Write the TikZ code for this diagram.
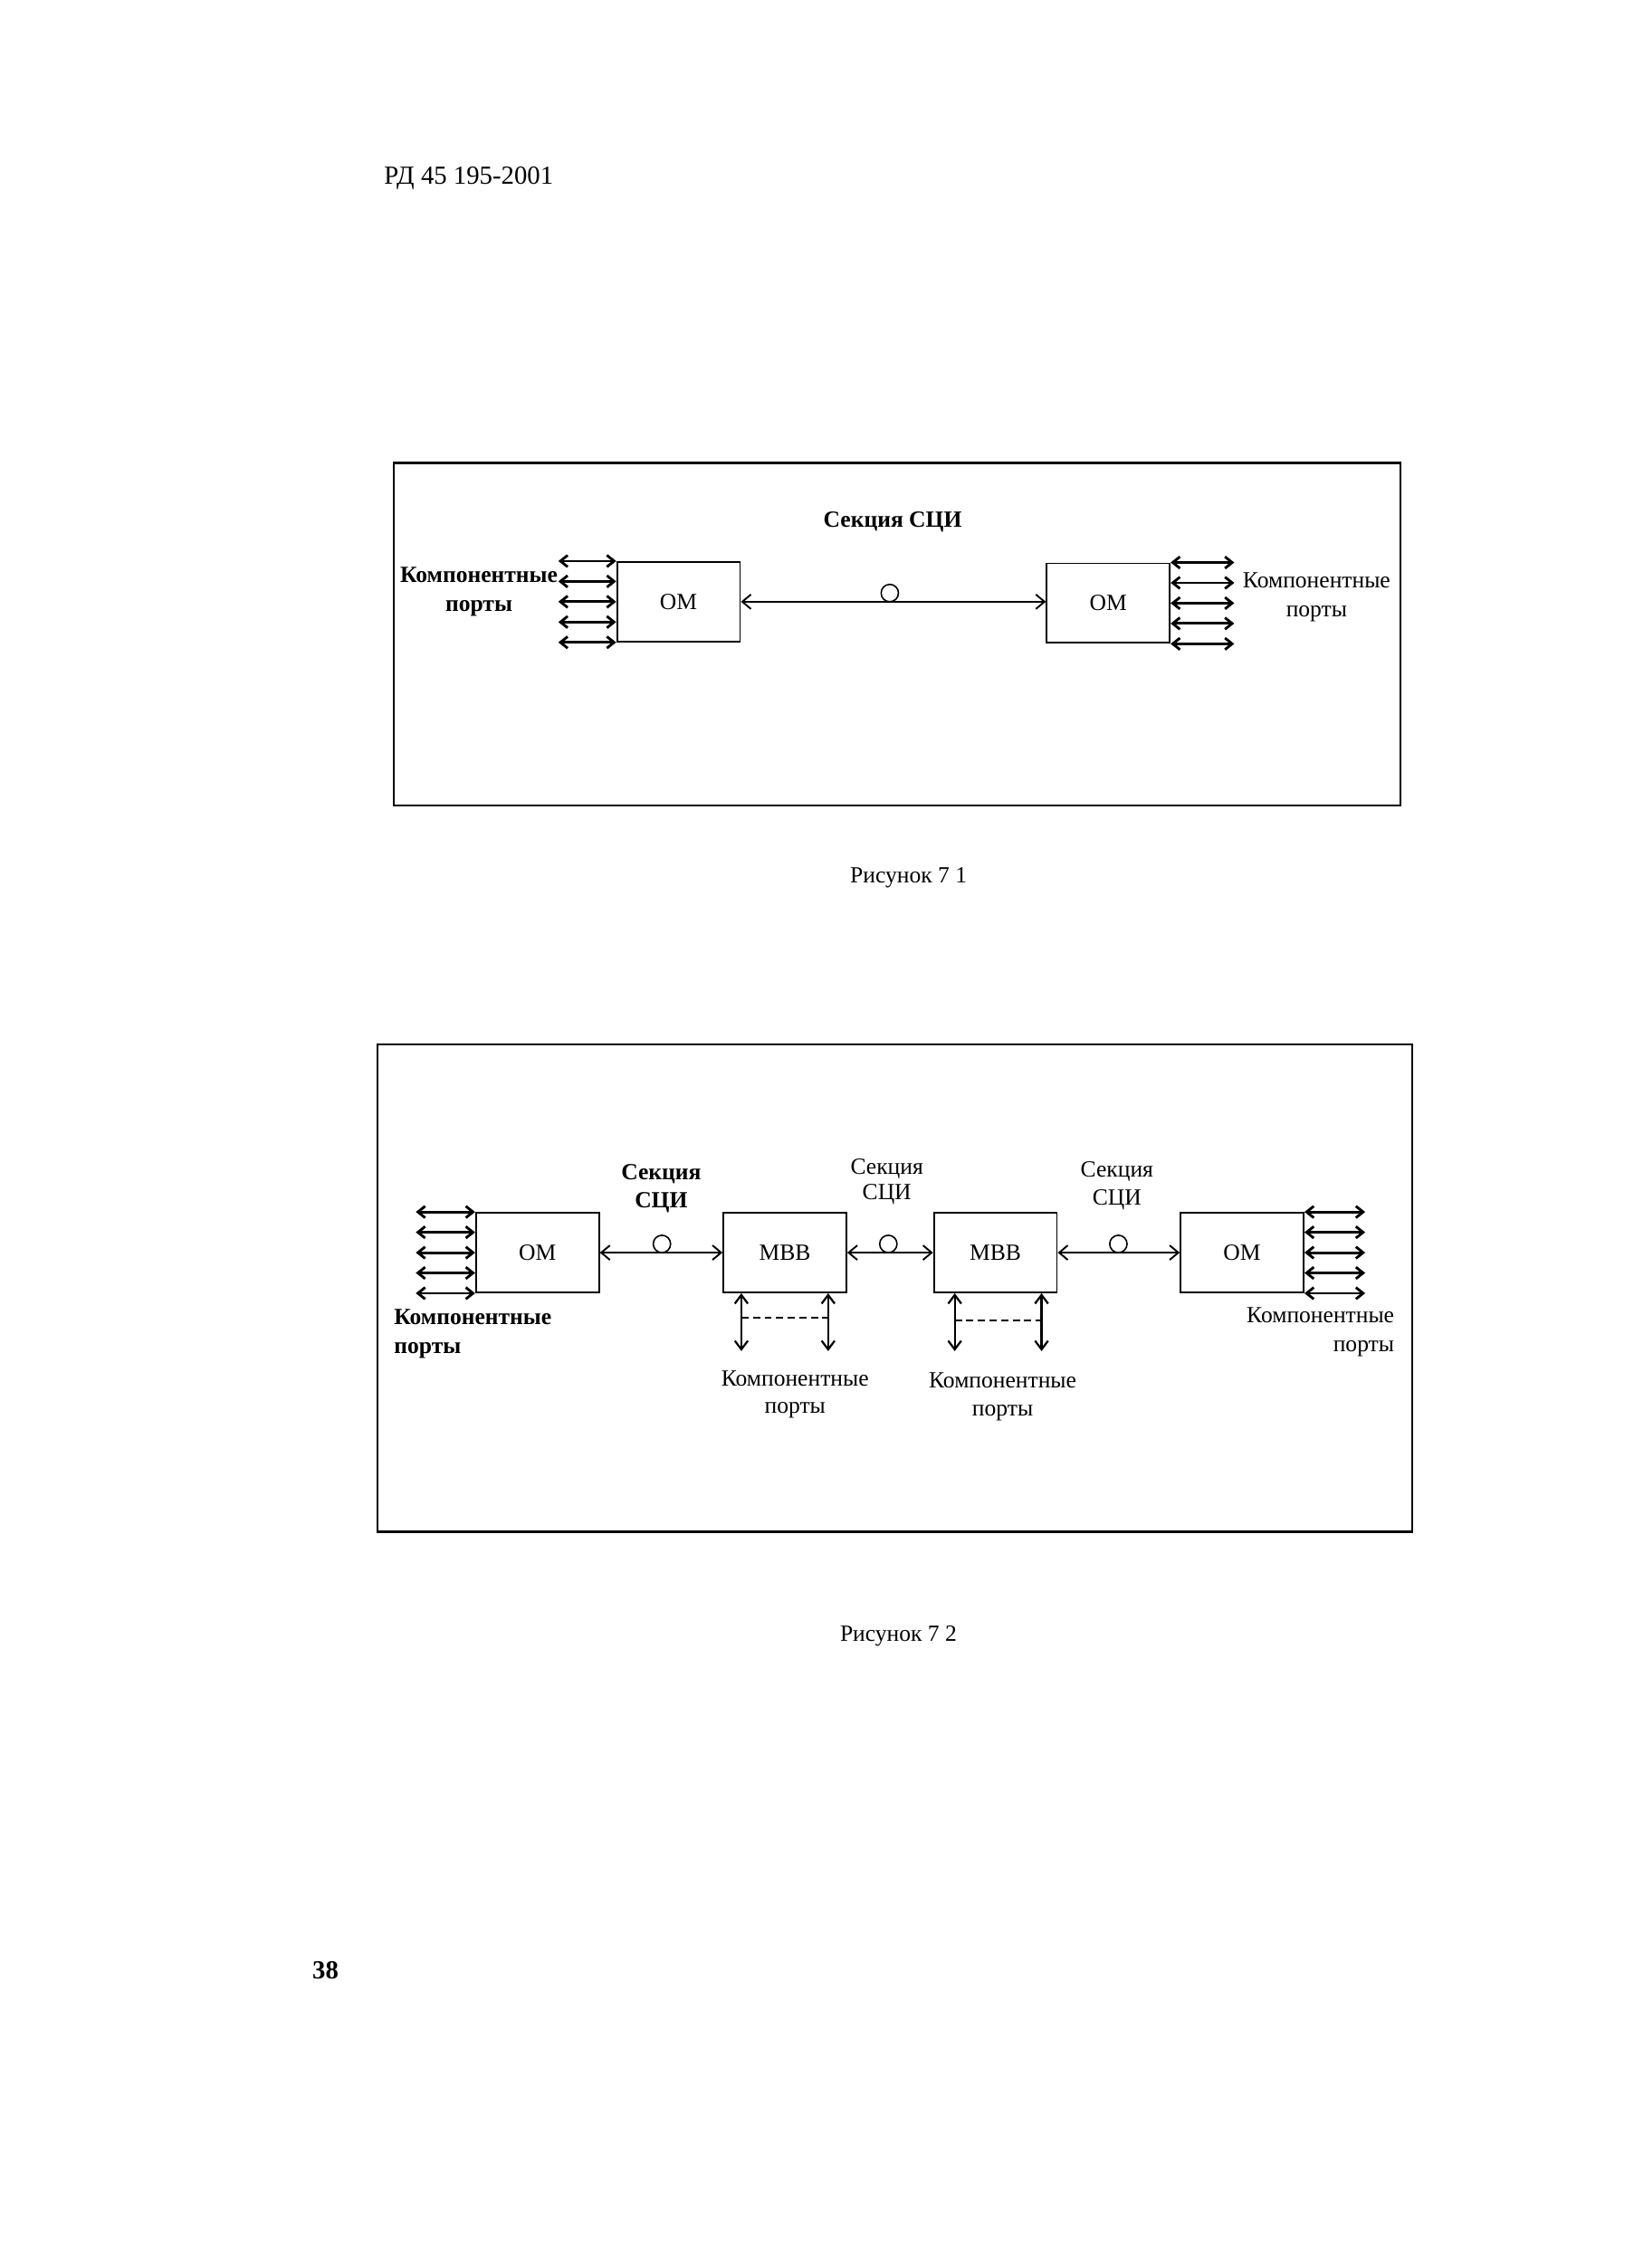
\documentclass[tikz,border=0pt]{standalone}
\usepackage{fontspec}
\setmainfont{Liberation Serif}
\usetikzlibrary{arrows.meta,positioning,calc}

\newcommand\figfont{\fontsize{8}{9.6}\selectfont}
\tikzset{
  frame/.style={line width=0.7pt},
  blk/.style={draw, line width=0.6pt, minimum width=42.5pt, minimum height=27.5pt,
    inner sep=0pt, font=\figfont},
  lbl/.style={inner sep=0pt, align=center, font=\figfont},
  lblb/.style={lbl, font=\figfont\bfseries},
  link/.style={{Straight Barb[length=3pt,width=5pt]}-{Straight Barb[length=3pt,width=5pt]},
    line width=0.6pt},
  port/.style={{Straight Barb[length=2.5pt,width=4pt]}-{Straight Barb[length=2.5pt,width=4pt]},
    line width=0.9pt},
  vport/.style={{Straight Barb[length=3pt,width=4.5pt]}-{Straight Barb[length=3pt,width=4.5pt]},
    line width=0.7pt},
  ring/.style={draw, circle, minimum size=6pt, inner sep=0pt, line width=0.5pt},
}

\begin{document}
\begin{tikzpicture}[x=0.5pt,y=-0.5pt]
  \useasboundingbox (0,0) rectangle (1129,1568);
  \node[inner sep=0pt, font=\fontsize{9}{11}\selectfont] (hdr) at (324,123) {РД 45 195-2001};

  % Figure 7.1
  \draw[frame] (272,320) rectangle (968,557);
  \node[blk] (omA) at (469,416) {ОМ};
  \node[blk] (omB) at (766,417) {ОМ};
  \draw[link] (omA.east) -- (omA.east -| omB.west);
  \node[ring] (ringA) at (615,410) {};
  \node[lblb] (secA) at (617,361) {Секция СЦИ};
  \foreach \f in {0,0.25,0.5,0.75,1}{
    \draw[port] ($(omA.north west)!\f!(omA.south west)$) -- ++(-40,0);
    \draw[port] ($(omB.north east)!\f!(omB.south east)$) -- ++(44,0);
  }
  \node[lblb, font=\fontsize{8}{10}\selectfont\bfseries] (portsA) at (331,409) {Компонентные\\порты};
  \node[lbl, font=\fontsize{8}{10}\selectfont] (portsB) at (910,413) {Компонентные\\порты};
  \node[lbl] (capA) at (628,607) {Рисунок 7 1};

  % Figure 7.2
  \draw[frame] (261,722) rectangle (976,1059);
  \node[blk] (omC) at (371.5,866) {ОМ};
  \node[blk] (mbbA) at (542.5,866) {МВВ};
  \node[blk] (mbbB) at (688,866) {МВВ};
  \node[blk] (omD) at (858.5,866) {ОМ};
  \draw[link] (omC) -- (mbbA);
  \draw[link] (mbbA) -- (mbbB);
  \draw[link] (mbbB) -- (omD);
  \node[ring] (ringB) at (457.5,860) {};
  \node[ring] (ringC) at (614,860) {};
  \node[ring] (ringD) at (773,860) {};
  \node[lblb] (secB) at (457,821.5) {Секция\\СЦИ};
  \node[lbl, font=\fontsize{8}{8.6}\selectfont] (secC) at (613,817) {Секция\\СЦИ};
  \node[lbl] (secD) at (772,820) {Секция\\СЦИ};
  \foreach \f in {0,0.25,0.5,0.75,1}{
    \draw[port] ($(omC.north west)!\f!(omC.south west)$) -- ++(-41,0);
    \draw[port] ($(omD.north east)!\f!(omD.south east)$) -- ++(42,0);
  }
  % ports below the multiplexers
  \foreach \b/\l/\r/\d in {mbbA/13/73/17, mbbB/15/75/19}{
    \coordinate (\b-l) at ($(\b.south west)+(\l,0)$);
    \coordinate (\b-r) at ($(\b.south west)+(\r,0)$);
    \draw[vport] (\b-l) -- ++(0,40);
    \draw[vport] (\b-r) -- ++(0,40);
    \draw[dashed, line width=0.6pt, dash pattern=on 2.5pt off 1.5pt]
      ($(\b-l)+(0,\d)$) -- ($(\b-r)+(0,\d)$);
  }
  \node[lblb, align=left, anchor=west, font=\fontsize{8}{10}\selectfont\bfseries] (portsC) at (272,922) {Компонентные\\порты};
  \node[lbl, align=right, anchor=east, font=\fontsize{8}{10}\selectfont] (portsD) at (964,921) {Компонентные\\порты};
  \node[lbl] (portsE) at (549.5,964) {Компонентные\\порты};
  \node[lbl] (portsF) at (693,965.5) {Компонентные\\порты};
  \node[lbl] (capB) at (621,1131) {Рисунок 7 2};

  \node[inner sep=0pt, font=\fontsize{9}{11}\selectfont\bfseries] (pgno) at (225,1362) {38};
\end{tikzpicture}
\end{document}
